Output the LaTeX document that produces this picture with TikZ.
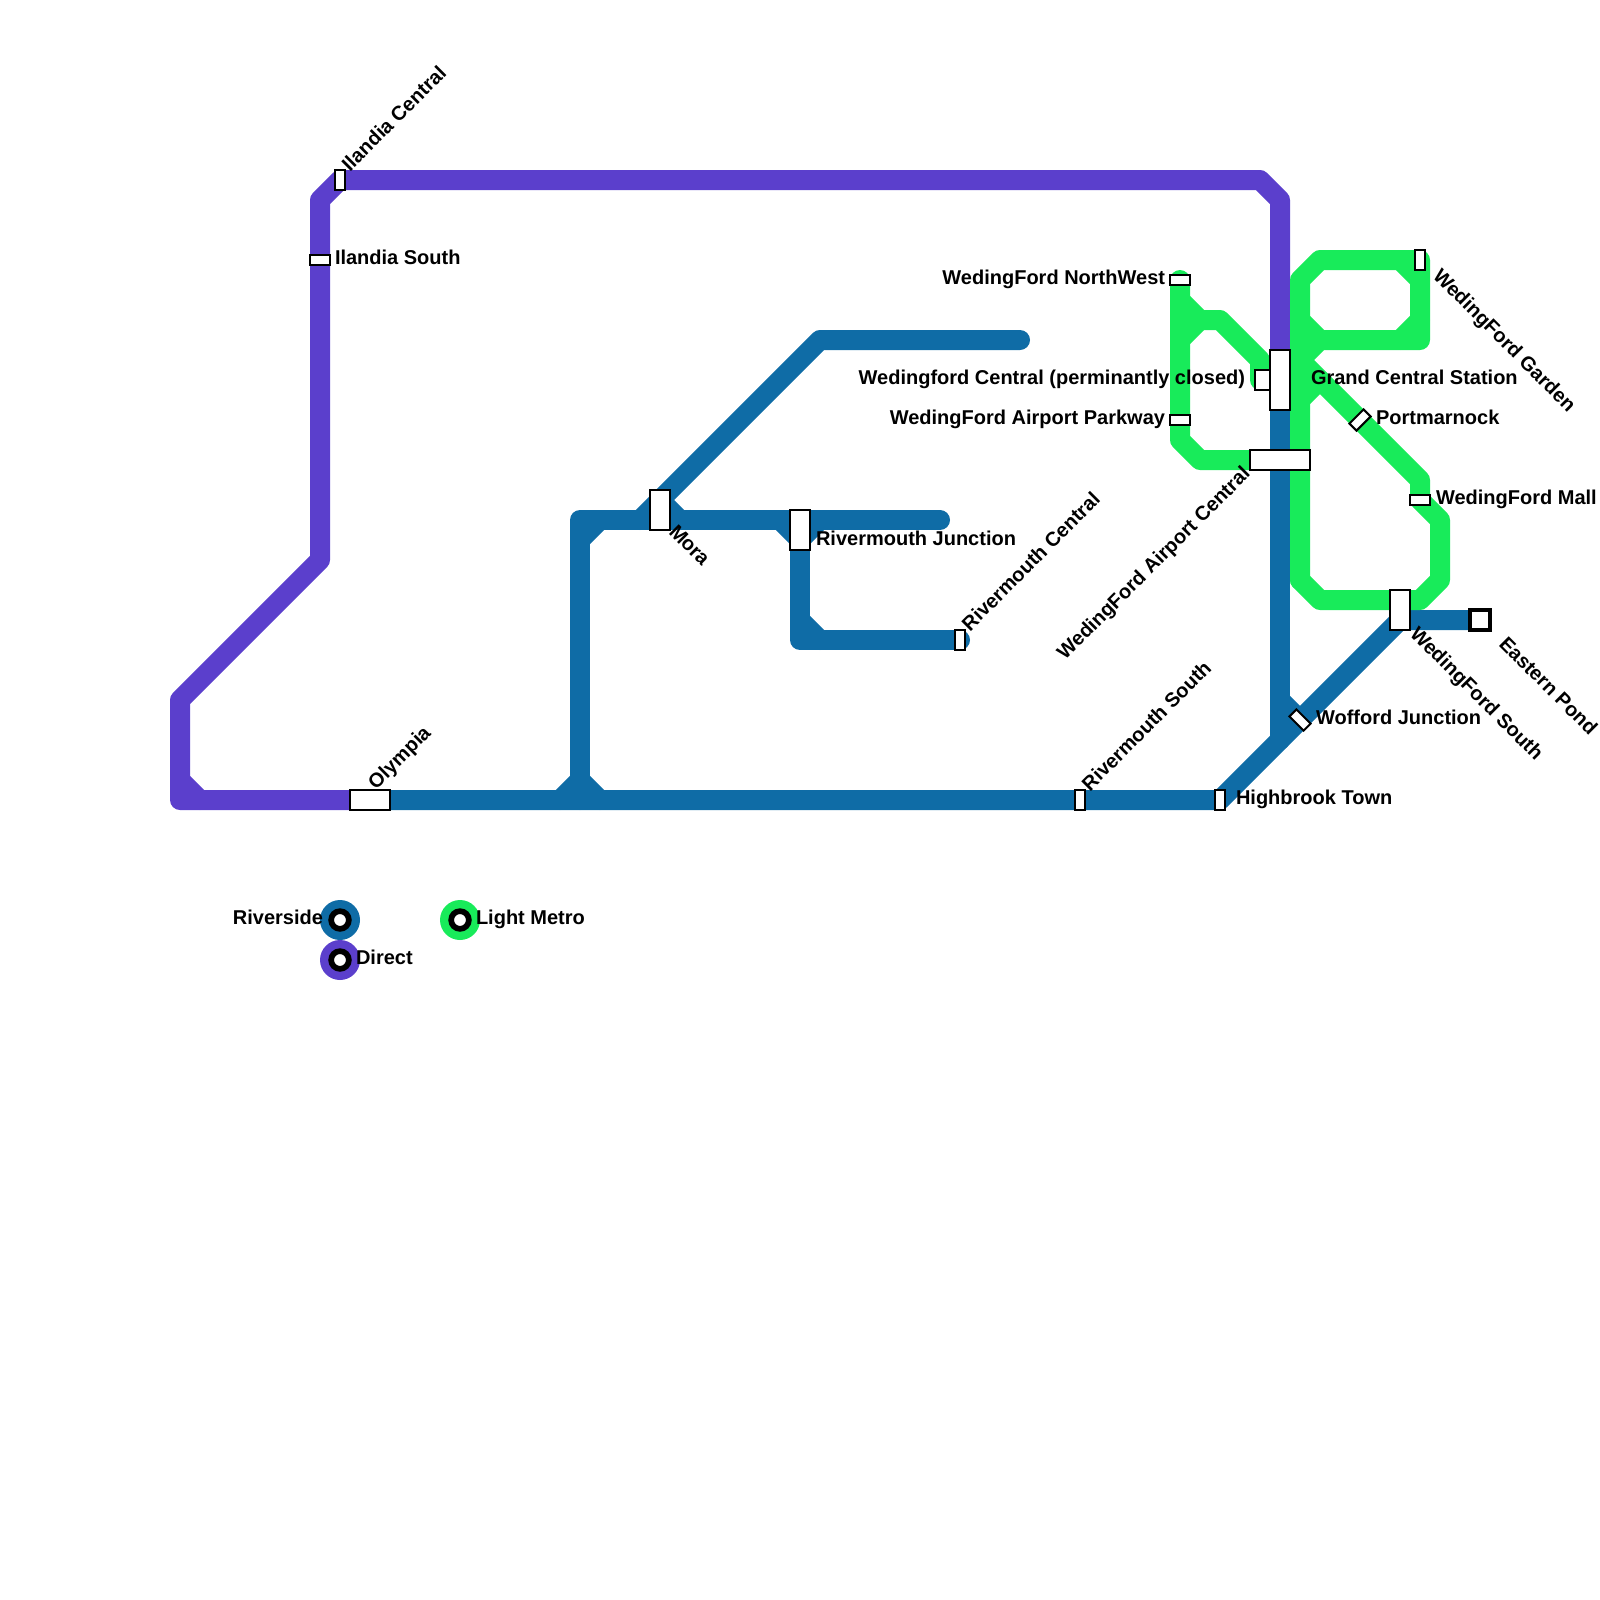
\documentclass[tikz,border=0pt]{standalone}
\usepackage{fontspec}
\setmainfont{Liberation Sans}
\usetikzlibrary{backgrounds}

\definecolor{riverside}{HTML}{0F6CA6}
\definecolor{direct}{HTML}{5B3FCC}
\definecolor{lightmetro}{HTML}{18EB5A}

\tikzset{
  stn/.style={draw,fill=white,line width=2pt,inner sep=0pt,outer sep=0pt,minimum width=#1},
  stnv/.style={stn=10pt,minimum height=20pt},
  stnh/.style={stn=20pt,minimum height=10pt},
  lbl/.style={inner sep=0pt,outer sep=0pt,font=\bfseries\fontsize{20}{24}\selectfont},
  rte/.style={draw=#1,line width=20pt,line cap=round,line join=round},
  disc/.style={circle,fill=#1,inner sep=0pt,minimum size=40pt},
  ring/.style={circle,draw,fill=white,line width=5.7pt,inner sep=0pt,outer sep=0pt,minimum size=17.7pt}
}

\begin{document}
\begin{tikzpicture}[x=1pt,y=-1pt]
\useasboundingbox (0,0) rectangle (1600,1600);

% stations
\node[stnv] (ilandiacentral) at (340,180) {};
\node[stnh] (ilandiasouth) at (320,260) {};
\node[stn=40pt,minimum height=20pt] (olympia) at (370,800) {};
\node[stn=20pt,minimum height=40pt] (mora) at (660,510) {};
\node[stn=20pt,minimum height=40pt] (rivjunction) at (800,530) {};
\node[stnv] (rivcentral) at (960,640) {};
\node[stnv] (rivsouth) at (1080,800) {};
\node[stnv] (highbrook) at (1220,800) {};
\node[stnh] (northwest) at (1180,280) {};
\node[stnh] (parkway) at (1180,420) {};
\node[stn=15pt,minimum height=20pt] (wedcentral) at (1262.5,380) {};
\node[stn=20pt,minimum height=60pt] (grandcentral) at (1280,380) {};
\node[stn=60pt,minimum height=20pt] (airportcentral) at (1280,460) {};
\node[stnv] (garden) at (1420,260) {};
\node[stnh,rotate=45] (portmarnock) at (1360,420) {};
\node[stnh] (mall) at (1420,500) {};
\node[stn=20pt,minimum height=40pt] (wedsouth) at (1400,610) {};
\node[stnh,rotate=-45] (wofford) at (1300,720) {};
\node[draw,fill=white,line width=4pt,inner sep=0pt,outer sep=0pt,minimum size=20pt] (easternpond) at (1480,620) {};

% station names
\node[lbl,rotate=45,anchor=base west] (lblilandiacentral) at (350,172) {Ilandia Central};
\node[lbl,anchor=base west] (lblilandiasouth) at (335,264) {Ilandia South};
\node[lbl,rotate=45,anchor=base west] (lblolympia) at (376,790) {Olympia};
\node[lbl,rotate=-45,anchor=base west] (lblmora) at (668,533) {Mora};
\node[lbl,anchor=base west] (lblrivjunction) at (816,545) {Rivermouth Junction};
\node[lbl,rotate=45,anchor=base west] (lblrivcentral) at (970,632) {Rivermouth Central};
\node[lbl,rotate=45,anchor=base west] (lblrivsouth) at (1090,792) {Rivermouth South};
\node[lbl,anchor=base west] (lblhighbrook) at (1236,804) {Highbrook Town};
\node[lbl,anchor=base east] (lblnorthwest) at (1165,284) {WedingFord NorthWest};
\node[lbl,anchor=base east] (lblwedcentral) at (1245,384) {Wedingford Central (perminantly closed)};
\node[lbl,anchor=base east] (lblparkway) at (1165,424) {WedingFord Airport Parkway};
\node[lbl,rotate=45,anchor=base east] (lblairportcentral) at (1251,475) {WedingFord Airport Central};
\node[lbl,anchor=base west] (lblgrandcentral) at (1311,384) {Grand Central Station};
\node[lbl,rotate=-45,anchor=base west] (lblgarden) at (1432,277) {WedingFord Garden};
\node[lbl,anchor=base west] (lblportmarnock) at (1376,424) {Portmarnock};
\node[lbl,anchor=base west] (lblmall) at (1436,504) {WedingFord Mall};
\node[lbl,rotate=-45,anchor=base west] (lblwedsouth) at (1409,635) {WedingFord South};
\node[lbl,anchor=base west] (lblwofford) at (1316,724) {Wofford Junction};
\node[lbl,rotate=-45,anchor=base west] (lbleasternpond) at (1498,645) {Eastern Pond};

% legend
\node[disc=riverside] (keyriverside) at (340,920) {};
\node[disc=direct] (keydirect) at (340,960) {};
\node[disc=lightmetro] (keylight) at (460,920) {};
\node[ring] (ringriverside) at (keyriverside) {};
\node[ring] (ringdirect) at (keydirect) {};
\node[ring] (ringlight) at (keylight) {};
\node[lbl,anchor=base east] (lblriverside) at (323,924) {Riverside};
\node[lbl,anchor=base west] (lbldirect) at (356,964) {Direct};
\node[lbl,anchor=base west] (lbllight) at (476,924) {Light Metro};

\begin{scope}[on background layer]
% direct
\draw[rte=direct] (olympia.center) -- (180,800) -- (180,700) -- (320,560) -- (ilandiasouth.center) -- (320,200) -- (ilandiacentral.center) -- (1260,180) -- (1280,200) -- (grandcentral.center);
\draw[rte=direct] (180,780) -- (200,800);

% riverside
\draw[rte=riverside] (olympia.center) -- (rivsouth.center) -- (highbrook.center) -- (wofford.center) -- (1400,620) -- (easternpond.center);
\draw[rte=riverside] (grandcentral.center) -- (airportcentral.center) -- (1280,740);
\draw[rte=riverside] (1280,700) -- (wofford.center);
\draw[rte=riverside] (580,800) -- (580,520) -- (940,520);
\draw[rte=riverside] (560,800) -- (580,780) -- (600,800);
\draw[rte=riverside] (580,540) -- (600,520);
\draw[rte=riverside] (640,520) -- (820,340) -- (1020,340);
\draw[rte=riverside] (660,500) -- (680,520);
\draw[rte=riverside] (rivjunction.center) -- (800,640) -- (rivcentral.center);
\draw[rte=riverside] (780,520) -- (800,540) -- (820,520);
\draw[rte=riverside] (800,620) -- (820,640);

% light metro
\draw[rte=lightmetro] (northwest.center) -- (parkway.center) -- (1180,440) -- (1200,460) -- (airportcentral.center);
\draw[rte=lightmetro] (1180,300) -- (1200,320) -- (1220,320) -- (1260,360) -- (1260,380);
\draw[rte=lightmetro] (1180,340) -- (1200,320);
\draw[rte=lightmetro] (1300,580) -- (1300,280) -- (1320,260) -- (garden.center) -- (1420,340) -- (1320,340) -- (1300,360);
\draw[rte=lightmetro] (1300,320) -- (1320,340);
\draw[rte=lightmetro] (1400,260) -- (1420,280);
\draw[rte=lightmetro] (1400,340) -- (1420,320);
\draw[rte=lightmetro] (1300,360) -- (portmarnock.center) -- (1420,480) -- (mall.center) -- (1440,520) -- (1440,580) -- (1420,600) -- (1320,600) -- (1300,580);
\draw[rte=lightmetro] (1300,400) -- (1320,380);
\end{scope}

\end{tikzpicture}
\end{document}
